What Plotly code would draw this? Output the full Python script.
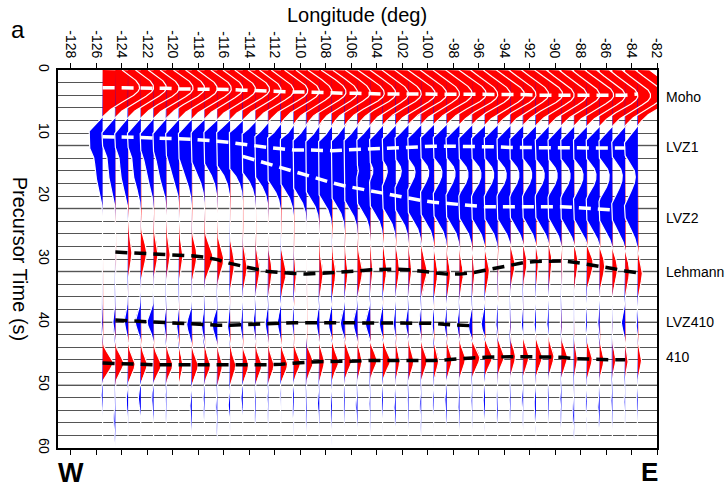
import numpy as np
import plotly.graph_objects as go

# ---------------- data ----------------
lons = [-125.5, -124.5, -123.5, -122.5, -121.5, -120.5, -119.5, -118.5,
        -117.5, -116.5, -115.5, -114.5, -113.5, -112.5, -111.5, -110.5,
        -109.5, -108.5, -107.5, -106.5, -105.5, -104.5, -103.5, -102.5,
        -101.5, -100.5, -99.5, -98.5, -97.5, -96.5, -95.5, -94.5,
        -93.5, -92.5, -91.5, -90.5, -89.5, -88.5, -87.5, -86.5,
        -85.5, -84.5, -83.5]

moho_t = [2.8, 2.8, 2.8, 2.9, 2.9, 2.9, 3.0, 3.0, 3.0, 3.1, 3.1, 3.2, 3.3, 3.3, 3.4, 3.5,
          3.5, 3.6, 3.6, 3.7, 3.7, 3.8, 3.8, 3.8, 3.8, 3.8, 3.8, 3.8, 3.9, 3.9, 3.9, 3.9,
          3.9, 3.9, 4.0, 4.0, 4.0, 4.0, 4.1, 4.1, 4.1, 4.0, 3.8]
moho_a = [2.9, 3.0, 3.0, 3.0, 3.1, 3.0, 3.0, 3.1, 3.0, 3.0, 3.1, 3.0, 3.0, 3.1, 3.0, 3.0,
          3.1, 3.0, 3.0, 3.1, 3.0, 3.0, 3.0, 3.1, 3.0, 3.0, 3.0, 3.1, 3.0, 3.0, 3.1, 3.0,
          3.0, 3.1, 3.0, 3.0, 3.0, 3.1, 3.0, 3.0, 3.0, 3.0, 3.0]

lvz1_t = [10.6, 10.6, 10.7, 10.7, 10.8, 10.8, 10.9, 11.0, 11.1, 11.3, 11.5, 11.8, 12.0, 12.3, 12.5, 12.7,
          12.7, 12.8, 12.8, 12.7, 12.6, 12.5, 12.4, 12.3, 12.2, 12.2, 12.1, 12.1, 12.1, 12.2, 12.2, 12.2,
          12.3, 12.3, 12.3, 12.4, 12.4, 12.4, 12.4, 12.4, 12.4, 12.4, 12.4]
lvz1_a = [1.25, 1.1, 1.1, 1.1, 1.1, 1.1, 1.1, 1.15, 1.2, 1.25, 1.3, 1.4, 1.45, 1.5, 1.5, 1.5,
          1.55, 1.55, 1.55, 1.55, 1.55, 1.55, 1.55, 1.55, 1.55, 1.55, 1.55, 1.55, 1.55, 1.55, 1.55, 1.55,
          1.55, 1.55, 1.5, 1.5, 1.5, 1.5, 1.5, 1.45, 1.4, 1.3, 1.2]

lvz2_t = [16.0, 16.0, 16.0, 16.0, 15.5, 15.5, 15.0, 15.0, 14.5, 14.0, 13.8, 13.7, 14.3, 15.0, 15.6, 16.2,
          16.8, 17.4, 17.9, 18.4, 18.8, 19.2, 19.6, 20.0, 20.3, 20.7, 21.0, 21.2, 21.4, 21.6, 21.7, 21.7,
          21.7, 21.6, 21.6, 21.6, 21.7, 21.8, 21.9, 22.0, 22.2, 22.3, 22.3]
lvz2_a = [0.55, 0.55, 0.6, 0.6, 0.6, 0.65, 0.65, 0.7, 0.75, 0.8, 0.9, 1.1, 1.2, 1.25, 1.3, 1.3,
          1.35, 1.35, 1.35, 1.35, 1.35, 1.35, 1.35, 1.35, 1.35, 1.35, 1.35, 1.35, 1.35, 1.35, 1.35, 1.35,
          1.35, 1.3, 1.3, 1.3, 1.3, 1.3, 1.3, 1.3, 1.25, 1.2, 1.1]

leh_t = [28.9, 28.9, 29.0, 29.0, 29.1, 29.2, 29.4, 29.5, 29.7, 30.1, 30.7, 31.2, 31.6, 32.0, 32.2, 32.3,
         32.4, 32.3, 32.2, 32.1, 31.9, 31.7, 31.6, 31.6, 31.7, 31.9, 32.2, 32.4, 32.4, 32.2, 31.8, 31.4,
         30.9, 30.6, 30.4, 30.3, 30.3, 30.5, 30.8, 31.1, 31.5, 31.9, 32.2]
leh_a = [0.03, 0.08, 0.3, 0.45, 0.35, 0.3, 0.3, 0.4, 0.65, 0.5, 0.35, 0.35, 0.35, 0.3, 0.4, 0.2,
         0.05, 0.3, 0.3, 0.25, 0.4, 0.2, 0.3, 0.3, 0.25, 0.45, 0.3, 0.3, 0.3, 0.2, 0.35, 0.1,
         0.35, 0.3, 0.2, 0.25, 0.1, 0.3, 0.5, 0.4, 0.4, 0.35, 0.35]

lvz410_t = [39.5, 39.7, 39.8, 39.9, 40.0, 40.2, 40.3, 40.4, 40.5, 40.5, 40.5, 40.4, 40.3, 40.2, 40.1, 40.1,
            40.1, 40.1, 40.1, 40.1, 40.1, 40.1, 40.1, 40.1, 40.1, 40.1, 40.2, 40.4, 40.5, 40.6, 40.2, 40.0,
            40.0, 40.0, 40.0, 40.0, 40.0, 40.0, 40.0, 40.0, 40.0, 40.0, 40.0]
lvz410_a = [0.12, 0.2, 0.3, 0.45, 0.5, 0.2, 0.2, 0.4, 0.25, 0.4, 0.2, 0.2, 0.2, 0.25, 0.3, 0.15,
            0.05, 0.25, 0.3, 0.35, 0.35, 0.4, 0.3, 0.2, 0.25, 0.2, 0.15, 0.2, 0.2, 0.3, 0.3, 0.15,
            0.1, 0.15, 0.15, 0.15, 0.1, 0.05, 0.12, 0.15, 0.05, 0.3, 0.15]

d410_t = [46.5, 46.6, 46.7, 46.7, 46.8, 46.8, 46.8, 46.9, 46.9, 46.9, 46.9, 46.9, 46.8, 46.8, 46.7, 46.5,
          46.4, 46.3, 46.3, 46.2, 46.2, 46.1, 46.1, 46.2, 46.2, 46.1, 46.1, 46.0, 45.8, 45.7, 45.6, 45.5,
          45.5, 45.5, 45.5, 45.5, 45.6, 45.8, 45.9, 46.0, 46.0, 46.0, 46.0]
d410_a = [0.8, 0.65, 0.55, 0.5, 0.6, 0.5, 0.3, 0.5, 0.45, 0.4, 0.45, 0.45, 0.5, 0.45, 0.52, 0.52,
          0.52, 0.4, 0.52, 0.52, 0.35, 0.52, 0.58, 0.32, 0.42, 0.47, 0.37, 0.42, 0.47, 0.6, 0.58, 0.5,
          0.4, 0.45, 0.5, 0.42, 0.47, 0.26, 0.42, 0.34, 0.26, 0.24, 0.29]

deep_t = [51.5, 55.0, 52.5, 52.0, 52.0, 52.0, 52.0, 53.0, 52.0, 53.0, 53.0, 52.0, 53.0, 52.0, 51.0, 52.0,
          53.0, 52.5, 53.0, 52.0, 53.0, 52.5, 52.0, 53.0, 52.0, 53.0, 52.5, 52.0, 53.0, 52.0, 52.0, 53.0,
          52.5, 52.0, 53.0, 52.0, 52.0, 54.0, 52.5, 53.0, 52.0, 52.0, 52.0]
deep_a = [0.12, 0.15, 0.15, 0.2, 0.15, 0.1, 0.05, 0.15, 0.12, 0.12, 0.15, 0.15, 0.1, 0.1, 0.08, 0.12,
          0.1, 0.15, 0.12, 0.1, 0.15, 0.1, 0.12, 0.15, 0.1, 0.12, 0.1, 0.15, 0.12, 0.1, 0.15, 0.12,
          0.1, 0.12, 0.15, 0.1, 0.12, 0.15, 0.1, 0.15, 0.12, 0.1, 0.1]

# pick (dashed line) longitude ranges
pick_ranges = {
    "moho": (-125.5, -83.5), "lvz1": (-125.5, -84.5), "lvz2": (-114.5, -85.5),
    "leh": (-124.5, -83.5), "lvz410": (-124.5, -96.5), "d410": (-125.5, -84.5),
}
xticks = list(range(-128, -81, 2))
yticks = [0, 10, 20, 30, 40, 50, 60]
phase_labels = ["Moho", "LVZ1", "LVZ2", "Lehmann", "LVZ410", "410"]
phase_label_t = [4.3, 12.2, 23.5, 32.0, 40.0, 45.6]

# ---------------- build waveforms ----------------
t = np.arange(0, 60.001, 0.08)


def pulse(t0, a, sb, sa):
    s = np.where(t < t0, sb, sa)
    return a * np.exp(-((t - t0) / s) ** 2)


CPOS, CNEG = 3.3, 1.05
RED, BLUE = "#ff0000", "#0000ff"

fig = go.Figure()
white_x, white_y = [], []
for i, lon in enumerate(lons):
    w = (pulse(moho_t[i], moho_a[i], 3.5, 2.9)
         - pulse(lvz1_t[i], lvz1_a[i], 2.4, 2.8)
         - pulse(lvz2_t[i], lvz2_a[i], 3.6, 3.6)
         + pulse(leh_t[i], leh_a[i], 2.6, 2.6)
         - pulse(lvz410_t[i], lvz410_a[i], 2.0, 1.9)
         + pulse(d410_t[i], d410_a[i], 1.9, 1.9)
         - pulse(deep_t[i], deep_a[i], 2.0, 2.0))
    w = np.clip(w, -CNEG, CPOS)
    pos = np.clip(w, 0, None)
    neg = np.clip(w, None, 0)
    for part, col in ((pos, RED), (neg, BLUE)):
        fig.add_trace(go.Scatter(
            x=np.concatenate([[lon], lon + part, [lon]]),
            y=np.concatenate([[0], t, [60]]),
            mode="lines", fill="toself", fillcolor=col,
            line=dict(width=0), hoverinfo="skip", showlegend=False))
    white_x += list(lon + w) + [None]
    white_y += list(t) + [None]

fig.add_trace(go.Scatter(x=white_x, y=white_y, mode="lines",
                         line=dict(color="white", width=1.2),
                         hoverinfo="skip", showlegend=False))


def add_pick(times, key, color):
    lo, hi = pick_ranges[key]
    xs = [lon for lon in lons if lo <= lon <= hi]
    ys = [times[i] for i, lon in enumerate(lons) if lo <= lon <= hi]
    fig.add_trace(go.Scatter(x=xs, y=ys, mode="lines",
                             line=dict(color=color, width=3.5, dash="12px,7px"),
                             hoverinfo="skip", showlegend=False))


add_pick(moho_t, "moho", "white")
add_pick(lvz1_t, "lvz1", "white")
add_pick(lvz2_t, "lvz2", "white")
add_pick(leh_t, "leh", "black")
add_pick(lvz410_t, "lvz410", "black")
add_pick(d410_t, "d410", "black")

FONT = "Arial, Liberation Sans, sans-serif"
ann = []
for lab, tt in zip(phase_labels, phase_label_t):
    ann.append(dict(text=lab, x=1.012, xref="paper", y=tt, yref="y",
                    xanchor="left", yanchor="middle", showarrow=False,
                    font=dict(size=14, family=FONT, color="black")))
ann += [
    dict(text="Longitude (deg)", x=0.499, y=1.146, xref="paper", yref="paper",
         xanchor="center", yanchor="middle",
         showarrow=False, font=dict(size=20, family=FONT, color="black")),
    dict(text="Precursor Time (s)", x=-0.063, y=0.5, xref="paper", yref="paper",
         xanchor="center", yanchor="middle",
         textangle=90, showarrow=False, font=dict(size=20, family=FONT, color="black")),
    dict(text="a", x=-0.067, y=1.106, xref="paper", yref="paper",
         xanchor="center", yanchor="middle",
         showarrow=False, font=dict(size=24, family=FONT, color="black")),
    dict(text="<b>W</b>", x=0.022, y=-0.066, xref="paper", yref="paper",
         xanchor="center", yanchor="middle",
         showarrow=False, font=dict(size=27, family=FONT, color="black")),
    dict(text="<b>E</b>", x=0.988, y=-0.064, xref="paper", yref="paper",
         xanchor="center", yanchor="middle",
         showarrow=False, font=dict(size=26, family=FONT, color="black")),
]

shapes = []
for yy in [12, 22, 32, 40, 50]:
    shapes.append(dict(type="line", xref="paper", x0=0, x1=1, yref="y", y0=yy, y1=yy,
                       line=dict(color="#bbbbbb", width=2), layer="below"))

fig.update_layout(
    width=727, height=487, margin=dict(l=58, r=70, t=70, b=39),
    paper_bgcolor="white", plot_bgcolor="white",
    annotations=ann, shapes=shapes,
    xaxis=dict(range=[-129, -82], side="top", tickmode="array", tickvals=xticks,
               ticktext=[str(v) for v in xticks], ticks="outside", ticklen=5,
               tickcolor="black", tickangle=90, showline=True, linecolor="black",
               linewidth=1.5, mirror="ticks", showgrid=False, zeroline=False,
               tickfont=dict(size=14, family=FONT, color="black")),
    yaxis=dict(range=[60, 0], tickmode="array", tickvals=yticks, ticks="",
               tickangle=90, showline=True, linecolor="black", linewidth=1.5,
               mirror=True, showgrid=True, gridcolor="#555555", gridwidth=1,
               minor=dict(dtick=2, showgrid=True, gridcolor="#555555", gridwidth=1),
               zeroline=False, tickfont=dict(size=14, family=FONT, color="black")),
)

fig.write_html("out.html")
